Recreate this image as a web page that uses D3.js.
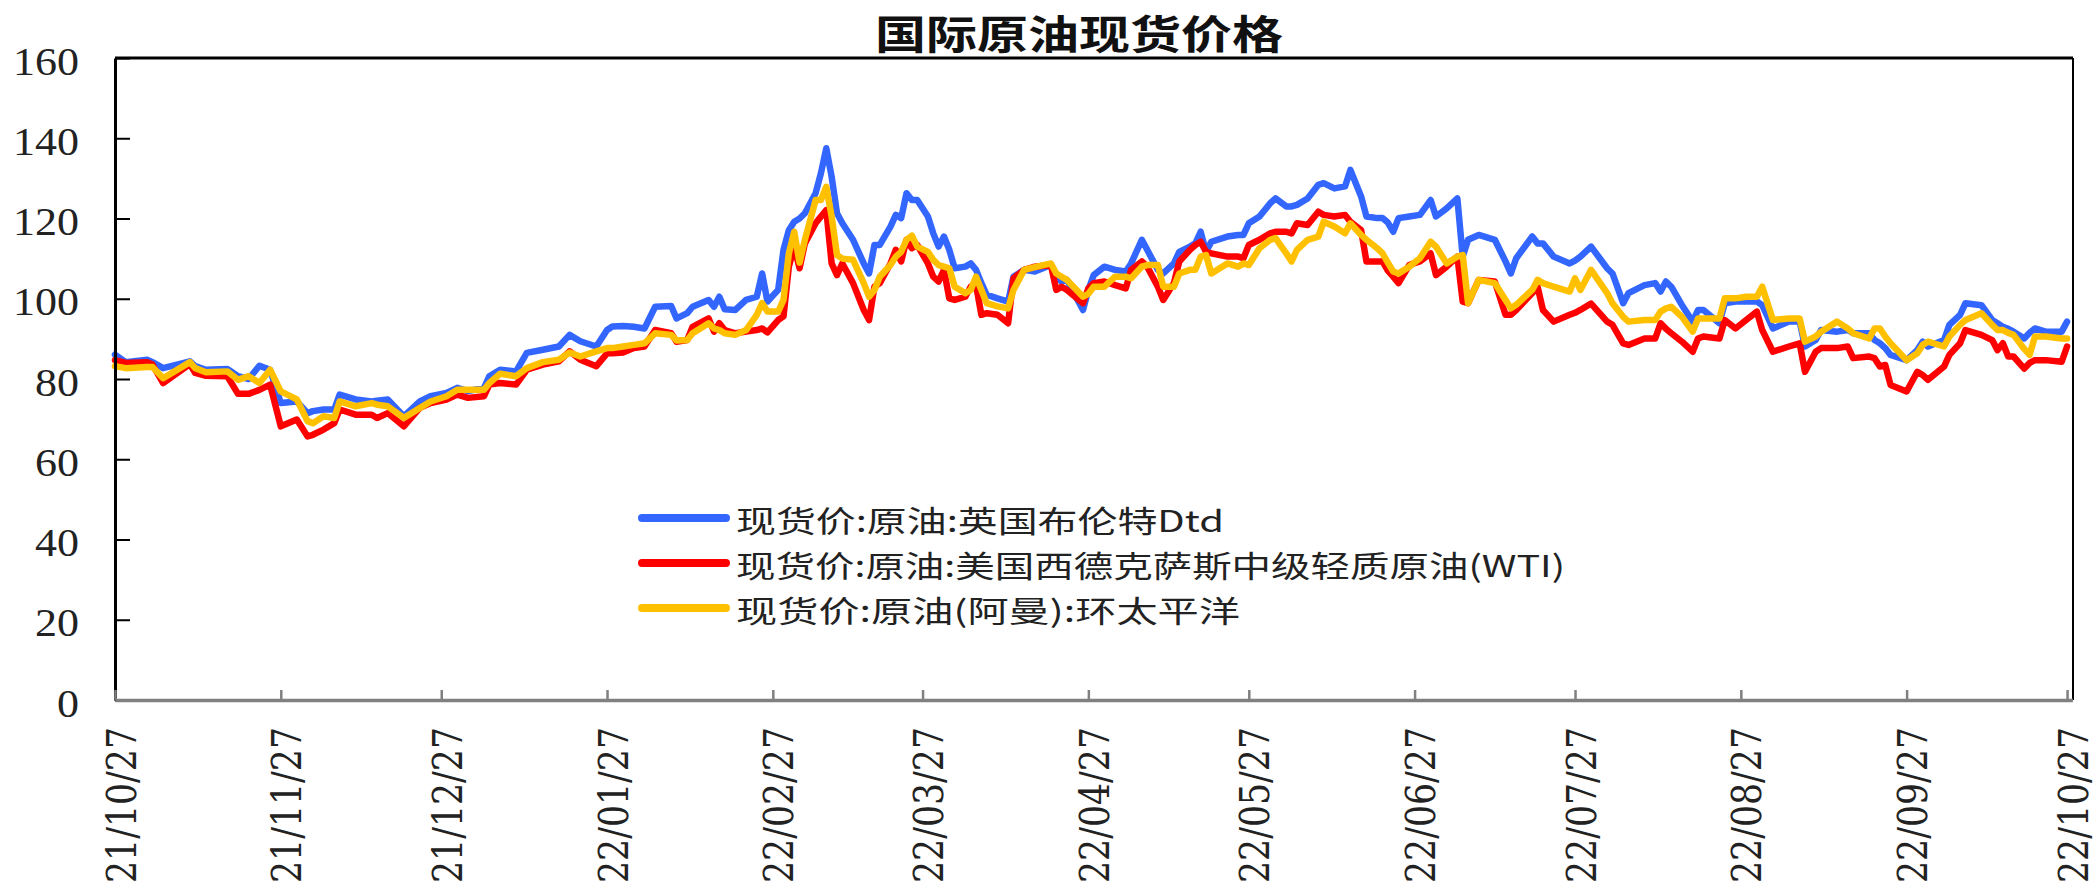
<!DOCTYPE html>
<html><head><meta charset="utf-8">
<script src="https://cdn.jsdelivr.net/npm/d3@7"></script>
<style>body{margin:0;background:#fff;} svg{display:block;background:#fff;}</style>
</head><body>
<svg id="chart" width="2098" height="886"></svg>
<script>
const dates = ["2021-10-27","2021-10-29","2021-11-02","2021-11-03","2021-11-05","2021-11-10","2021-11-11","2021-11-13","2021-11-17","2021-11-19","2021-11-21","2021-11-23","2021-11-25","2021-11-27","2021-11-30","2021-12-02","2021-12-03","2021-12-05","2021-12-07","2021-12-08","2021-12-11","2021-12-14","2021-12-15","2021-12-17","2021-12-20","2021-12-23","2021-12-25","2021-12-28","2021-12-30","2022-01-01","2022-01-04","2022-01-05","2022-01-07","2022-01-10","2022-01-12","2022-01-15","2022-01-18","2022-01-20","2022-01-22","2022-01-25","2022-01-27","2022-01-28","2022-01-30","2022-02-01","2022-02-03","2022-02-05","2022-02-08","2022-02-09","2022-02-11","2022-02-12","2022-02-15","2022-02-16","2022-02-17","2022-02-18","2022-02-20","2022-02-22","2022-02-24","2022-02-25","2022-02-26","2022-02-28","2022-03-01","2022-03-02","2022-03-03","2022-03-04","2022-03-05","2022-03-07","2022-03-08","2022-03-09","2022-03-10","2022-03-11","2022-03-12","2022-03-14","2022-03-16","2022-03-17","2022-03-18","2022-03-19","2022-03-21","2022-03-22","2022-03-23","2022-03-24","2022-03-25","2022-03-26","2022-03-28","2022-03-29","2022-03-30","2022-03-31","2022-04-01","2022-04-02","2022-04-04","2022-04-05","2022-04-06","2022-04-07","2022-04-08","2022-04-10","2022-04-12","2022-04-13","2022-04-15","2022-04-17","2022-04-20","2022-04-21","2022-04-22","2022-04-23","2022-04-26","2022-04-27","2022-04-28","2022-04-30","2022-05-02","2022-05-04","2022-05-05","2022-05-07","2022-05-08","2022-05-10","2022-05-11","2022-05-13","2022-05-14","2022-05-16","2022-05-17","2022-05-18","2022-05-19","2022-05-20","2022-05-23","2022-05-25","2022-05-26","2022-05-27","2022-05-29","2022-05-31","2022-06-01","2022-06-03","2022-06-04","2022-06-05","2022-06-07","2022-06-09","2022-06-10","2022-06-12","2022-06-14","2022-06-15","2022-06-17","2022-06-18","2022-06-20","2022-06-21","2022-06-22","2022-06-23","2022-06-24","2022-06-26","2022-06-28","2022-06-30","2022-07-01","2022-07-03","2022-07-05","2022-07-06","2022-07-07","2022-07-09","2022-07-12","2022-07-14","2022-07-15","2022-07-16","2022-07-19","2022-07-20","2022-07-21","2022-07-23","2022-07-26","2022-07-27","2022-07-28","2022-07-30","2022-08-02","2022-08-03","2022-08-05","2022-08-06","2022-08-09","2022-08-11","2022-08-12","2022-08-13","2022-08-14","2022-08-16","2022-08-18","2022-08-19","2022-08-20","2022-08-23","2022-08-24","2022-08-26","2022-08-28","2022-08-30","2022-08-31","2022-09-02","2022-09-05","2022-09-07","2022-09-08","2022-09-10","2022-09-11","2022-09-14","2022-09-16","2022-09-17","2022-09-20","2022-09-21","2022-09-22","2022-09-23","2022-09-24","2022-09-27","2022-09-29","2022-09-30","2022-10-01","2022-10-04","2022-10-05","2022-10-07","2022-10-08","2022-10-11","2022-10-13","2022-10-14","2022-10-15","2022-10-16","2022-10-17","2022-10-19","2022-10-20","2022-10-21","2022-10-23","2022-10-26","2022-10-27"];

const brent = [86.1,84.2,84.8,84.2,82.7,84.4,83.2,82.3,82.5,80.7,80.0,83.3,82.3,74.0,74.4,71.5,72.0,72.4,72.4,76.1,74.9,74.4,74.6,74.9,70.7,74.4,75.7,76.5,77.8,77.0,77.8,80.7,82.3,81.9,86.5,87.3,88.1,91.0,89.4,88.1,92.2,93.1,93.2,93.0,92.6,98.0,98.2,95.1,96.4,98.0,99.7,98.0,100.5,97.4,97.2,99.7,100.5,106.3,99.3,102.2,112.2,117.1,119.2,120.0,121.3,126.3,131.3,137.5,130.4,121.3,118.8,114.7,108.8,106.3,113.4,113.4,118.0,120.9,120.1,126.3,124.6,124.6,120.5,116.3,113.0,115.5,112.2,107.6,108.0,108.8,107.2,103.9,101.0,100.1,99.3,105.5,107.2,106.8,108.4,105.5,104.3,104.7,97.2,102.2,105.9,108.0,107.2,106.8,108.8,114.7,112.2,107.2,106.3,108.8,111.7,113.0,113.8,116.7,111.7,114.2,115.5,115.9,115.9,118.8,120.5,123.8,125.0,123.0,123.0,123.4,125.0,128.4,128.8,127.5,128.0,132.1,125.5,120.5,120.1,120.1,119.0,116.7,120.1,120.5,120.9,124.6,120.5,122.5,125.0,110.5,114.7,115.9,114.7,109.3,106.3,110.1,115.5,113.8,113.8,110.5,108.8,109.5,110.5,113.0,107.6,106.3,98.9,101.4,103.4,103.9,101.8,104.3,103.0,98.4,94.3,97.2,97.2,93.9,98.9,99.3,99.3,99.3,98.4,92.6,94.3,94.3,88.1,89.7,92.2,91.8,92.2,91.4,91.4,89.7,88.9,87.7,86.0,84.7,87.2,89.3,88.1,89.7,93.5,96.0,98.9,98.4,94.7,93.9,93.0,92.5,91.8,90.1,91.5,92.6,91.8,91.8,94.3];

const wti = [84.7,84.0,84.2,83.6,79.0,83.7,81.5,80.8,80.7,76.3,76.3,77.3,78.6,68.2,69.9,65.7,66.1,67.4,69.0,72.4,71.1,71.1,70.3,71.5,68.2,72.8,74.0,74.9,76.1,75.3,75.7,78.6,79.0,78.6,82.3,83.6,84.4,86.9,84.8,83.2,86.4,86.4,86.6,87.7,88.1,92.2,91.4,89.3,89.7,93.0,95.1,91.8,93.9,92.2,91.4,91.8,92.2,92.6,91.6,94.7,95.6,108.0,113.0,107.6,113.8,118.8,120.5,122.1,108.8,105.9,108.8,103.9,97.2,94.7,103.0,103.9,108.8,112.2,109.3,114.7,112.6,113.4,108.8,105.5,104.3,107.2,100.1,99.7,100.5,103.0,103.4,96.0,96.4,96.0,93.9,105.1,107.2,108.0,108.4,102.2,103.0,102.2,98.9,102.6,103.9,104.3,103.4,102.6,107.2,109.3,108.0,103.0,99.7,103.9,109.3,112.2,113.4,114.2,111.7,111.3,110.5,110.5,110.1,113.4,114.7,116.3,116.7,116.7,116.3,118.8,118.4,121.7,120.9,120.5,120.9,119.2,117.1,109.3,109.3,109.3,107.0,105.5,103.9,108.4,109.3,111.3,105.9,108.0,110.5,99.3,98.9,104.7,104.3,96.0,96.0,97.2,101.4,103.0,97.2,94.3,96.0,96.5,97.2,98.8,94.3,93.5,88.9,88.5,90.1,90.1,93.9,92.5,91.4,89.3,86.8,90.1,90.6,90.1,94.7,92.6,94.7,96.8,92.2,86.8,88.1,88.9,81.8,86.8,87.7,87.7,88.1,85.2,85.6,85.2,83.1,83.5,78.5,76.9,81.8,81.0,79.8,83.1,86.0,88.9,92.2,91.0,89.7,87.2,88.9,85.6,85.6,82.6,84.0,84.7,84.7,84.3,88.1];

const oman = [83.2,82.7,83.0,83.0,80.2,84.2,82.7,81.7,81.9,79.8,80.7,79.0,82.3,76.9,74.9,69.5,69.0,70.7,70.3,74.4,73.2,74.0,73.6,73.2,70.3,72.8,74.4,75.7,77.3,77.3,77.3,79.0,81.3,80.7,82.7,84.2,84.8,86.6,85.6,86.9,87.7,87.7,88.1,88.5,88.9,91.4,91.0,89.6,89.7,91.4,93.9,92.6,92.2,91.4,91.0,92.2,96.0,98.9,96.8,96.8,99.7,111.3,116.7,109.0,114.7,124.6,124.6,127.9,120.5,110.9,110.0,109.7,103.9,100.5,102.2,105.5,108.4,110.5,111.7,114.7,115.7,113.0,111.7,109.7,108.4,108.0,107.6,103.0,101.4,102.2,105.5,102.2,98.9,98.1,97.6,102.2,107.2,107.9,108.8,106.3,105.5,104.7,100.5,101.2,103.0,103.0,105.5,105.5,105.1,108.0,108.4,108.4,103.0,103.0,106.3,107.2,107.2,110.5,110.9,106.3,108.8,108.0,108.8,108.4,112.6,114.7,115.1,111.3,109.3,112.2,114.7,115.5,119.2,118.0,116.3,118.8,115.9,114.7,112.6,111.3,109.0,106.8,106.3,108.0,110.1,114.2,113.0,108.8,110.5,110.9,98.9,104.7,103.9,99.7,97.6,98.5,102.2,104.7,103.9,103.0,101.8,105.1,102.2,107.2,101.4,98.9,95.5,94.3,94.7,94.7,96.8,97.6,98.0,95.5,91.8,95.1,95.1,95.1,100.1,100.1,100.5,100.5,103.0,94.7,95.1,95.1,89.3,90.6,91.8,94.3,92.6,91.4,90.1,92.6,92.6,90.6,88.9,84.7,86.4,88.5,89.3,88.1,90.6,93.5,94.7,96.4,93.5,92.2,92.2,91.5,91.0,87.5,86.0,90.6,90.6,90.1,90.1];

const seriesNames = ["现货价:原油:英国布伦特Dtd", "现货价:原油:美国西德克萨斯中级轻质原油(WTI)", "现货价:原油(阿曼):环太平洋"];
const seriesColors = ["#3366FF", "#FF0000", "#FFC000"];
const xTickDates = ["2021-10-27","2021-11-27","2021-12-27","2022-01-27","2022-02-27","2022-03-27","2022-04-27","2022-05-27","2022-06-27","2022-07-27","2022-08-27","2022-09-27","2022-10-27"];
const yTicks = [0,20,40,60,80,100,120,140,160];
const titleText = "国际原油现货价格";

const parse = d3.timeParse("%Y-%m-%d");
const fmt = d3.timeFormat("%y/%m/%d");
const L = 115, R = 2073, T = 58, B = 700;

const x = d3.scaleTime().domain([parse("2021-10-27"), parse("2022-10-28")]).range([L, 2072.4]);
const y = d3.scaleLinear().domain([0, 160]).range([B, T]);

const svg = d3.select("#chart");
svg.append("rect").attr("width", 2098).attr("height", 886).attr("fill", "#fff");

// title
svg.append("text")
  .attr("x", 875).attr("y", 32)
  .attr("dominant-baseline", "central")
  .attr("textLength", 408).attr("lengthAdjust", "spacingAndGlyphs")
  .style("font-family", "'Noto Sans CJK SC'")
  .style("font-weight", "bold")
  .style("font-size", "40px")
  .attr("fill", "#111")
  .text(titleText);

// series lines
const allSeries = [brent, wti, oman];
const line = d3.line().x(d => x(d.date)).y(d => y(d.v)).curve(d3.curveLinear);
allSeries.forEach((vals, i) => {
  const pts = dates.map((d, j) => ({date: parse(d), v: vals[j]}));
  svg.append("path").datum(pts)
    .attr("d", line)
    .attr("fill", "none")
    .attr("stroke", seriesColors[i])
    .attr("stroke-width", 6.5)
    .attr("stroke-linejoin", "round")
    .attr("stroke-linecap", "round");
});

// top & right border
svg.append("line").attr("x1", L).attr("x2", R).attr("y1", T).attr("y2", T).attr("stroke", "#000").attr("stroke-width", 3);
svg.append("line").attr("x1", R).attr("x2", R).attr("y1", T).attr("y2", B).attr("stroke", "#000").attr("stroke-width", 2);

// y axis
const yAxis = d3.axisLeft(y).tickValues(yTicks).tickSizeInner(-15).tickSizeOuter(0).tickFormat(d3.format("d"));
const gy = svg.append("g").attr("transform", `translate(${L},0)`).call(yAxis);
gy.select(".domain").attr("stroke", "#000").attr("stroke-width", 3);
gy.selectAll(".tick line").attr("stroke", "#000").attr("stroke-width", 2);
gy.selectAll(".tick text")
  .attr("x", null).attr("dy", null)
  .attr("text-anchor", "end")
  .attr("transform", "translate(-36,16) scale(1.1,1)")
  .style("font-family", "'Liberation Serif'")
  .style("font-size", "40px")
  .attr("fill", "#222");

// x axis
const xAxis = d3.axisBottom(x).tickValues(xTickDates.map(parse)).tickSizeInner(-10).tickSizeOuter(0).tickFormat(fmt);
const gx = svg.append("g").attr("transform", `translate(0,${B})`).call(xAxis);
gx.select(".domain").attr("stroke", "#808080").attr("stroke-width", 3.5);
gx.selectAll(".tick line").attr("stroke", "#808080").attr("stroke-width", 2.5);
gx.selectAll(".tick text")
  .attr("y", null).attr("dy", null)
  .attr("text-anchor", "end")
  .attr("dominant-baseline", "central")
  .attr("textLength", 156).attr("lengthAdjust", "spacingAndGlyphs")
  .attr("transform", "translate(6,27) scale(1.3,1) rotate(-90)")
  .style("font-family", "'DejaVu Serif'")
  .style("font-size", "32px")
  .attr("fill", "#222");

// legend
const legendRows = [518, 563, 608];
const legendWidths = [488, 829, 504];
seriesNames.forEach((name, i) => {
  const g = svg.append("g");
  g.append("line").attr("x1", 642).attr("x2", 726).attr("y1", legendRows[i]).attr("y2", legendRows[i])
    .attr("stroke", seriesColors[i]).attr("stroke-width", 8).attr("stroke-linecap", "round");
  g.append("text").attr("x", 736).attr("y", legendRows[i] + 1)
    .attr("dominant-baseline", "central")
    .attr("textLength", legendWidths[i]).attr("lengthAdjust", "spacingAndGlyphs")
    .style("font-family", "'Noto Sans CJK SC'")
    .style("font-size", "30px")
    .attr("fill", "#222")
    .text(name);
});
</script>
</body></html>
